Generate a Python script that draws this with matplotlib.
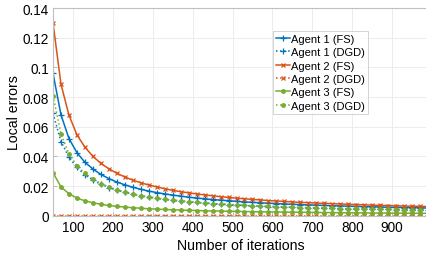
import numpy as np
import matplotlib
matplotlib.use("Agg")
import matplotlib.pyplot as plt

plt.rcParams['font.family'] = ['Liberation Sans', 'DejaVu Sans']

iters = list(range(50, 1000, 20))

agent1_fs = [0.096, 0.068, 0.052, 0.0425, 0.036, 0.0315, 0.0278, 0.0250, 0.0227, 0.0208,
             0.0192, 0.0178, 0.0166, 0.0156, 0.0147, 0.0139, 0.0132, 0.0125, 0.0119, 0.0114,
             0.0109, 0.0105, 0.0101, 0.0097, 0.0093, 0.0090, 0.0087, 0.0084, 0.0082, 0.0079,
             0.0077, 0.0075, 0.0073, 0.0071, 0.0069, 0.0067, 0.0066, 0.0064, 0.0063, 0.0061,
             0.0060, 0.0059, 0.0057, 0.0056, 0.0055, 0.0054, 0.0053, 0.0052]
agent1_dgd = [0.069, 0.050, 0.0395, 0.0325, 0.0276, 0.0240, 0.0212, 0.0190, 0.0172, 0.0157,
              0.0145, 0.0134, 0.0125, 0.0117, 0.0110, 0.0104, 0.0098, 0.0093, 0.0089, 0.0085,
              0.0081, 0.0078, 0.0074, 0.0071, 0.0069, 0.0066, 0.0064, 0.0062, 0.0060, 0.0058,
              0.0056, 0.0055, 0.0053, 0.0052, 0.0050, 0.0049, 0.0048, 0.0047, 0.0046, 0.0045,
              0.0044, 0.0043, 0.0042, 0.0041, 0.0040, 0.0039, 0.0038, 0.0037]
agent2_fs = [0.130, 0.0886, 0.0678, 0.0545, 0.0462, 0.0400, 0.0353, 0.0316, 0.0286, 0.0261,
             0.0240, 0.0222, 0.0207, 0.0194, 0.0182, 0.0171, 0.0162, 0.0154, 0.0147, 0.0140,
             0.0134, 0.0128, 0.0123, 0.0118, 0.0114, 0.0110, 0.0106, 0.0102, 0.0099, 0.0096,
             0.0093, 0.0090, 0.0088, 0.0085, 0.0083, 0.0081, 0.0079, 0.0077, 0.0075, 0.0073,
             0.0071, 0.0070, 0.0068, 0.0067, 0.0065, 0.0064, 0.0063, 0.0062]
agent2_dgd = [0.0] * 48
agent3_fs = [0.029, 0.0194, 0.0148, 0.0119, 0.0100, 0.0087, 0.0077, 0.0069, 0.0063, 0.0058,
             0.0054, 0.0050, 0.0047, 0.0044, 0.0042, 0.0040, 0.0038, 0.0036, 0.0035, 0.0033,
             0.0032, 0.0031, 0.0030, 0.0029, 0.0028, 0.0027, 0.0026, 0.0025, 0.0025, 0.0024,
             0.0023, 0.0023, 0.0022, 0.0022, 0.0021, 0.0021, 0.0020, 0.0020, 0.0019, 0.0019,
             0.0018, 0.0018, 0.0018, 0.0017, 0.0017, 0.0017, 0.0016, 0.0016]
agent3_dgd = [0.081, 0.055, 0.0416, 0.0338, 0.0285, 0.0246, 0.0217, 0.0194, 0.0175, 0.0160,
              0.0147, 0.0136, 0.0127, 0.0119, 0.0112, 0.0105, 0.0100, 0.0095, 0.0090, 0.0086,
              0.0082, 0.0079, 0.0075, 0.0072, 0.0070, 0.0067, 0.0065, 0.0063, 0.0061, 0.0059,
              0.0057, 0.0055, 0.0054, 0.0052, 0.0051, 0.0049, 0.0048, 0.0047, 0.0046, 0.0045,
              0.0044, 0.0043, 0.0042, 0.0041, 0.0040, 0.0039, 0.0038, 0.0038]

blue = "#0072BD"
orange = "#D95319"
green = "#77AC30"

fig = plt.figure(figsize=(4.26, 2.55), dpi=100)
ax = fig.add_axes([53 / 426, 38.3 / 255, 375 / 426, 207.7 / 255])

ax.plot(iters, agent1_fs, "-", color=blue, marker="+", ms=4, mew=0.9, lw=1.1, label="Agent 1 (FS)")
ax.plot(iters, agent1_dgd, ":", color=blue, marker="+", ms=4, mew=0.9, lw=1.1, label="Agent 1 (DGD)")
ax.plot(iters, agent2_fs, "-", color=orange, marker="x", ms=3, mew=0.9, lw=1.1, label="Agent 2 (FS)")
ax.plot(iters, agent2_dgd, ":", color=orange, marker="x", ms=3, mew=0.9, lw=1.1, label="Agent 2 (DGD)")
ax.plot(iters, agent3_fs, "-", color=green, marker=".", ms=5, lw=1.1, label="Agent 3 (FS)")
ax.plot(iters, agent3_dgd, ":", color=green, marker=".", ms=5, lw=1.1, label="Agent 3 (DGD)")

ax.set_xlim(50, 990)
ax.set_ylim(0, 0.14)
ax.set_xticks(range(100, 1000, 100))
ax.set_yticks([0, 0.02, 0.04, 0.06, 0.08, 0.1, 0.12, 0.14])
ax.set_yticklabels(["0", "0.02", "0.04", "0.06", "0.08", "0.1", "0.12", "0.14"])
ax.tick_params(direction="in", length=3, width=0.6, color="#b0b0b0", labelsize=9.8, pad=3)
ax.grid(True, color="#ececec", lw=0.7)
ax.set_axisbelow(True)
for s in ax.spines.values():
    s.set_color("#c0c0c0")
    s.set_linewidth(0.8)

ax.set_xlabel("Number of iterations", fontsize=10.2, labelpad=3)
ax.set_ylabel("Local errors", fontsize=10.2, labelpad=1)

leg = ax.legend(loc="upper left", bbox_to_anchor=(273 / 426, 1 - 31.7 / 255),
                bbox_transform=fig.transFigure, fontsize=8, frameon=True, fancybox=False,
                handlelength=1.2, handletextpad=0.1, labelspacing=0.3, borderpad=0.3,
                borderaxespad=0)
leg.get_frame().set_edgecolor("#c8c8c8")
leg.get_frame().set_linewidth(0.7)

fig.savefig("out.png", dpi=100)
